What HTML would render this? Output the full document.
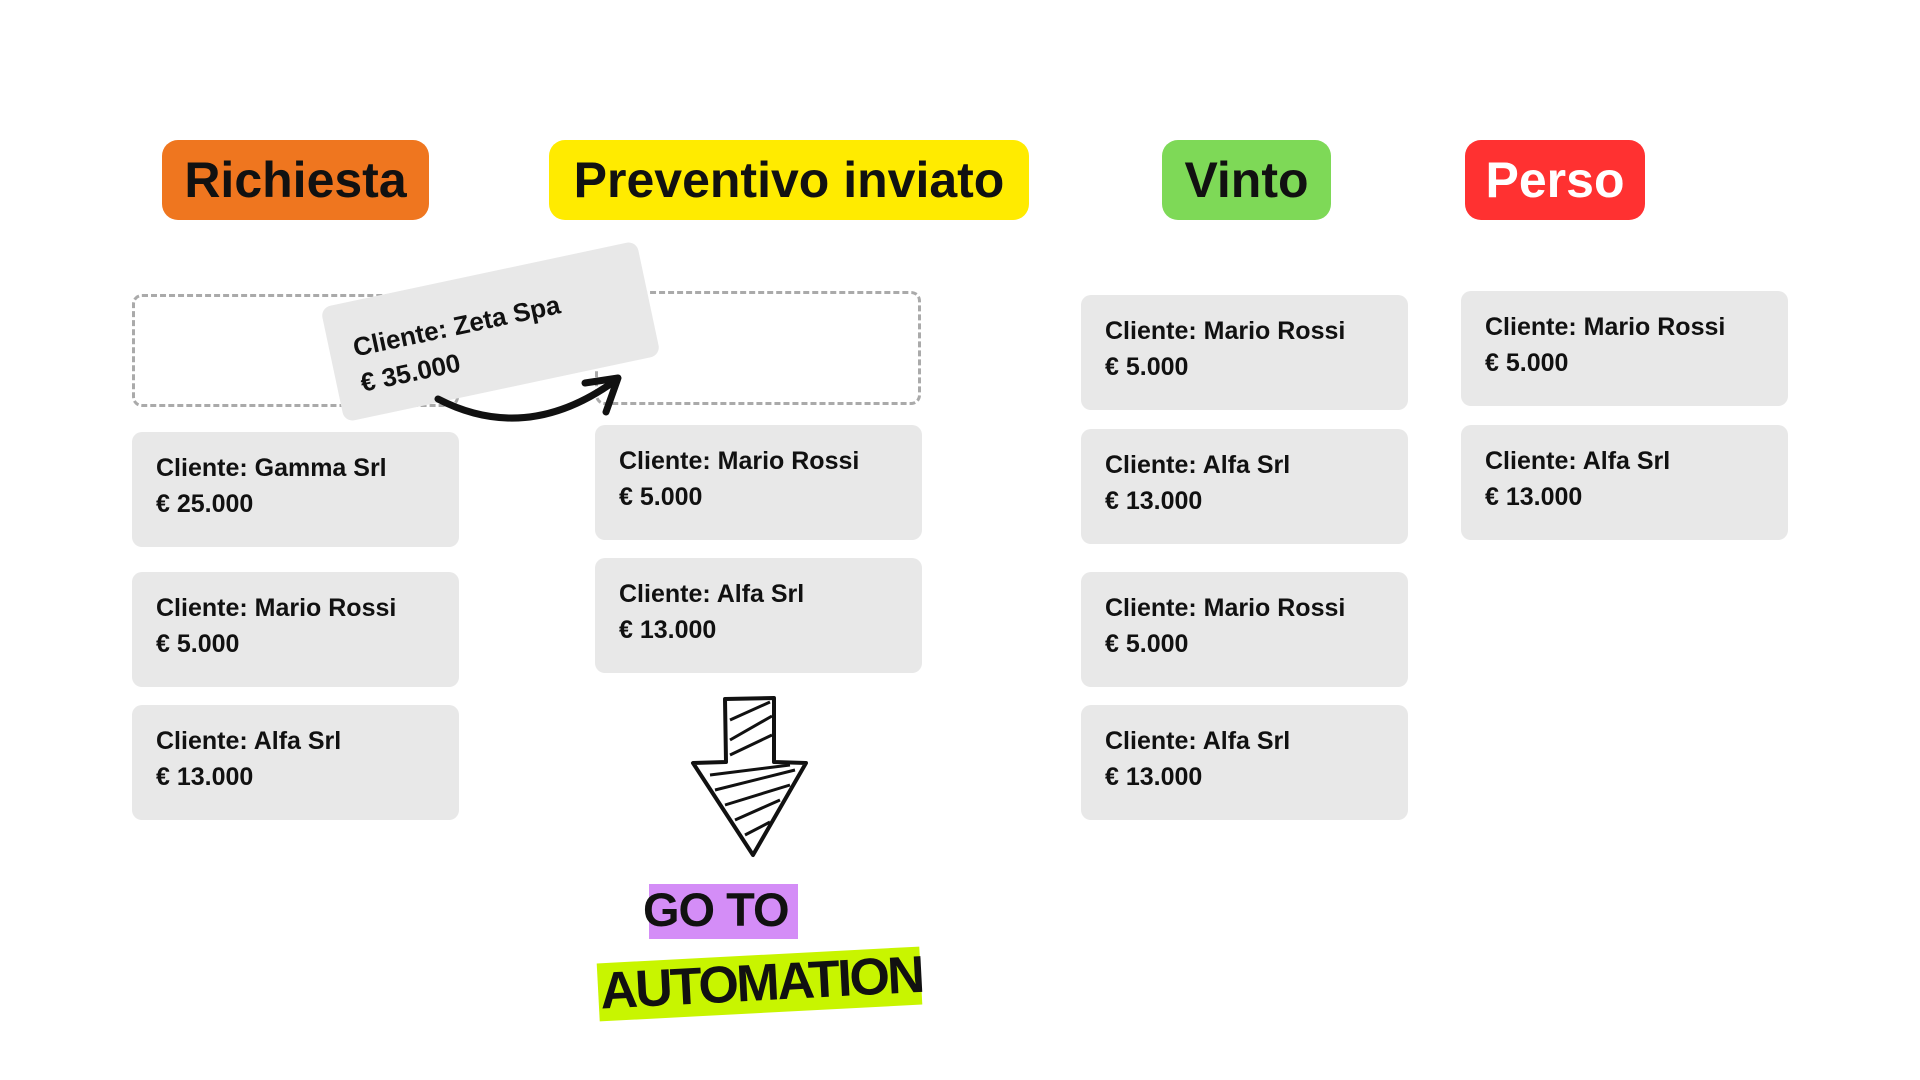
<!DOCTYPE html>
<html><head><meta charset="utf-8"><style>
body{margin:0;width:1920px;height:1080px;background:#fff;position:relative;overflow:hidden;font-family:"Liberation Sans",sans-serif;}
.h{position:absolute;top:140px;height:80px;border-radius:16px;font-weight:bold;font-size:50px;line-height:80px;text-align:center;color:#111;}
.c{position:absolute;width:327px;height:115px;background:#e8e8e8;border-radius:10px;box-sizing:border-box;padding:18px 0 0 24px;font-size:25px;font-weight:bold;color:#111;line-height:36px;}
.d{position:absolute;border:3px dashed #aaa;border-radius:10px;box-sizing:border-box;}
</style></head><body>
<div class="h" style="left:162px;width:267px;background:#ef761f">Richiesta</div>
<div class="h" style="left:549px;width:480px;background:#ffeb00">Preventivo inviato</div>
<div class="h" style="left:1162px;width:169px;background:#7ed957">Vinto</div>
<div class="h" style="left:1465px;width:180px;background:#ff3131;color:#fff">Perso</div>

<div class="d" style="left:132px;top:294px;width:327px;height:113px"></div>
<div class="d" style="left:595px;top:291px;width:326px;height:114px"></div>

<div class="c" style="left:132px;top:432px">Cliente: Gamma Srl<br>€ 25.000</div>
<div class="c" style="left:132px;top:572px">Cliente: Mario Rossi<br>€ 5.000</div>
<div class="c" style="left:132px;top:705px">Cliente: Alfa Srl<br>€ 13.000</div>

<div class="c" style="left:595px;top:425px">Cliente: Mario Rossi<br>€ 5.000</div>
<div class="c" style="left:595px;top:558px">Cliente: Alfa Srl<br>€ 13.000</div>

<div class="c" style="left:1081px;top:295px">Cliente: Mario Rossi<br>€ 5.000</div>
<div class="c" style="left:1081px;top:429px">Cliente: Alfa Srl<br>€ 13.000</div>
<div class="c" style="left:1081px;top:572px">Cliente: Mario Rossi<br>€ 5.000</div>
<div class="c" style="left:1081px;top:705px">Cliente: Alfa Srl<br>€ 13.000</div>

<div class="c" style="left:1461px;top:291px">Cliente: Mario Rossi<br>€ 5.000</div>
<div class="c" style="left:1461px;top:425px">Cliente: Alfa Srl<br>€ 13.000</div>

<div class="c" style="left:329px;top:273px;width:323px;height:117px;transform:rotate(-12deg);padding-top:28px;font-size:26px">Cliente: Zeta Spa<br>€ 35.000</div>

<svg width="1920" height="1080" style="position:absolute;left:0;top:0" fill="none" stroke="#111">
<path d="M438 399 Q527 445 616 380" stroke-width="7" stroke-linecap="round"/>
<path d="M585 383 L618 378 L606 412" stroke-width="7" stroke-linecap="round" stroke-linejoin="round"/>
<path d="M725 699 L774 698 L774 762 L806 763 L753 855 L693 763 L726 762 Z" stroke-width="4" stroke-linejoin="round"/>
<g stroke-width="3">
<path d="M730 720 L770 702 M730 740 L772 716 M730 755 L772 735 M710 775 L790 765 M715 790 L795 770 M725 805 L790 785 M735 820 L780 800 M745 835 L770 822"/>
</g>
</svg>

<div style="position:absolute;left:649px;top:884px;width:149px;height:55px;background:#d48df7"></div>
<div style="position:absolute;left:643px;top:880px;font-size:47px;font-weight:bold;color:#111;letter-spacing:-1px;line-height:60px">GO TO</div>
<div style="position:absolute;left:598px;top:955px;width:323px;height:58px;background:#c8f500;transform:rotate(-3deg)"></div>
<div style="position:absolute;left:600px;top:951px;width:330px;font-size:52px;font-weight:bold;color:#111;letter-spacing:-2.5px;line-height:64px;transform:rotate(-3deg)">AUTOMATION</div>
</body></html>
